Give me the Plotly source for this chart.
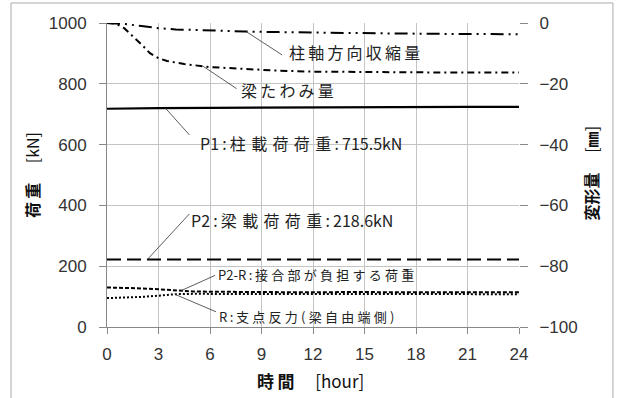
import numpy as np
import plotly.graph_objects as go

# ---- data ----
t_p1 = [0, 1, 3, 6, 9, 12, 15, 18, 21, 24]
p1_load = [718, 718, 720, 721, 722, 723, 723, 723, 724, 724]

t_p2 = [0, 3, 6, 9, 12, 15, 18, 21, 24]
p2_load = [222, 222, 222, 222, 222, 222, 222, 222, 222]

t_lr = [0, 1, 2, 3, 4, 5, 6, 8, 10, 12, 14, 16, 18, 20, 22, 24]
p2r_load = [130, 129, 127, 124, 120, 117, 116, 115, 115, 114, 115, 114, 115, 114, 114, 114]
r_load = [95, 96, 99, 103, 108, 109, 109, 108, 108, 109, 108, 109, 108, 108, 108, 108]

t_col = [0, 1, 2, 3, 4, 6, 8, 10, 12, 16, 20, 24]
col_def = [0, -0.3, -1.0, -1.7, -2.1, -2.5, -2.8, -3.0, -3.2, -3.4, -3.6, -3.7]

t_beam = [0, 0.5, 1.0, 1.5, 2.0, 2.5, 3.0, 3.5, 4.5, 6, 8, 10, 12, 16, 20, 24]
beam_def = [0, -0.2, -1.7, -4.2, -7.0, -9.9, -11.6, -12.5, -13.5, -14.5, -15.2,
            -15.7, -16.0, -16.2, -16.3, -16.3]

x_ticks = [0, 3, 6, 9, 12, 15, 18, 21, 24]
y1_ticks = [0, 200, 400, 600, 800, 1000]
y2_ticks = [-100, -80, -60, -40, -20, 0]

CJK = "Noto Sans CJK JP"
LAT = "Liberation Sans"


def spaced(s, sp="\u2009"):
    return sp.join(list(s))


fig = go.Figure()
fig.add_trace(go.Scatter(x=t_p1, y=p1_load, mode="lines",
                         line=dict(color="black", width=2.2)))
fig.add_trace(go.Scatter(x=t_p2, y=p2_load, mode="lines",
                         line=dict(color="black", width=2, dash="14px,6px")))
fig.add_trace(go.Scatter(x=t_lr, y=p2r_load, mode="lines",
                         line=dict(color="black", width=2, dash="4px,2px")))
fig.add_trace(go.Scatter(x=t_lr, y=r_load, mode="lines",
                         line=dict(color="black", width=2, dash="2px,2px")))
fig.add_trace(go.Scatter(x=t_col, y=col_def, mode="lines", yaxis="y2",
                         line=dict(color="black", width=2,
                                   dash="13px,5px,2px,5px,2px,5px")))
fig.add_trace(go.Scatter(x=t_beam, y=beam_def, mode="lines", yaxis="y2",
                         line=dict(color="black", width=2,
                                   dash="7px,4px,2px,4px")))

shapes = []
annotations = []


def leader(x0, y0, x1, y1, yref):
    shapes.append(dict(type="line", xref="x", yref=yref, x0=x0, y0=y0,
                       x1=x1, y1=y1, line=dict(color="#333", width=0.8)))


def label(x, y, text, yref, size=15):
    annotations.append(dict(x=x, y=y, xref="x", yref=yref, text=text,
                            showarrow=False, xanchor="left", yanchor="middle",
                            font=dict(family=CJK, size=size, color="#222")))


S3 = "\u2004"
S4 = "\u2005"
# 柱軸方向収縮量
leader(8.1, float(np.interp(8.1, t_col, col_def)), 10.2, -10.5, "y2")
label(10.5, -9.6, spaced("柱軸方向収縮量"), "y2", 16)
# 梁たわみ量
leader(5.6, float(np.interp(5.6, t_beam, beam_def)), 7.55, -21.6, "y2")
label(7.7, -22.0, spaced("梁たわみ量"), "y2", 16)
# P1
leader(3.4, float(np.interp(3.4, t_p1, p1_load)), 4.8, 632, "y")
label(5.3, 605, "P1\u2009:\u2009" + spaced("柱載荷荷重", S3) + "\u2009:\u2009715.5kN", "y", 16)
# P2
leader(2.35, 222, 4.8, 372, "y")
label(4.75, 352, "P2\u2009:\u2009" + spaced("梁載荷荷重", S3) + "\u2009:\u2009218.6kN", "y", 16)
# P2-R
leader(4.3, float(np.interp(4.3, t_lr, p2r_load)), 6.3, 170, "y")
label(6.35, 174, "P2-R\u2009:\u2009" + spaced("接合部が負担する荷重", S4), "y", 13)
# R
leader(3.95, float(np.interp(3.95, t_lr, r_load)), 6.35, 50, "y")
label(6.4, 34, "R\u2009:\u2009" + spaced("支点反力", S4) + S4 + "(" + S4
      + spaced("梁自由端側", S4) + S4 + ")", "y", 13)

# axis titles
annotations.append(dict(x=-0.182, y=0.5, xref="paper", yref="paper",
                        xanchor="center", yanchor="middle",
                        text="<b>荷\u2009重</b>\u2003 [kN]", textangle=-90, showarrow=False,
                        font=dict(family=CJK, size=16, color="#111")))
annotations.append(dict(x=1.177, y=0.505, xref="paper", yref="paper",
                        xanchor="center", yanchor="middle",
                        text="<b>変形量</b>\u2003 [<b>㎜</b>]", textangle=-90, showarrow=False,
                        font=dict(family=CJK, size=16, color="#111")))
annotations.append(dict(x=0.495, y=-0.175, xref="paper", yref="paper",
                        xanchor="center", yanchor="middle",
                        text="<b>時\u2009間</b>\u2003 [hour]", showarrow=False,
                        font=dict(family=CJK, size=17, color="#111")))

# outer frame
shapes.append(dict(type="rect", xref="paper", yref="paper",
                   x0=-0.233, x1=1.228, y0=-0.3, y1=1.0658,
                   line=dict(color="#aaaaaa", width=1), layer="above"))

fig.update_layout(
    width=620, height=398,
    margin=dict(l=107, r=101, t=23, b=71),
    paper_bgcolor="white", plot_bgcolor="white",
    showlegend=False,
    shapes=shapes, annotations=annotations,
    xaxis=dict(range=[0, 24], tickvals=x_ticks, ticktext=[str(v) for v in x_ticks],
               showgrid=True, gridcolor="#c4c4c4", gridwidth=1,
               showline=True, linecolor="#888", linewidth=1,
               ticks="outside", ticklen=6, tickcolor="#888",
               ticklabelstandoff=6,
               tickfont=dict(family=LAT, size=17, color="#333"),
               zeroline=False, fixedrange=True),
    yaxis=dict(range=[0, 1000], tickvals=y1_ticks,
               showgrid=True, gridcolor="#c4c4c4", gridwidth=1,
               showline=True, linecolor="#888", linewidth=1,
               ticks="outside", ticklen=7, tickcolor="#888",
               ticklabelstandoff=9,
               tickfont=dict(family=LAT, size=17, color="#333"),
               zeroline=False, fixedrange=True),
    yaxis2=dict(range=[-100, 0], tickvals=y2_ticks, overlaying="y", side="right",
                showgrid=False, showline=False,
                ticks="outside", ticklen=8, tickcolor="#888",
                ticklabelstandoff=8,
                tickfont=dict(family=LAT, size=17, color="#333"),
                zeroline=False, fixedrange=True),
)

fig.write_html("out.html", config={"displayModeBar": False},
               post_script="document.body.style.margin='0px';"
                           "document.body.style.overflow='hidden';")
